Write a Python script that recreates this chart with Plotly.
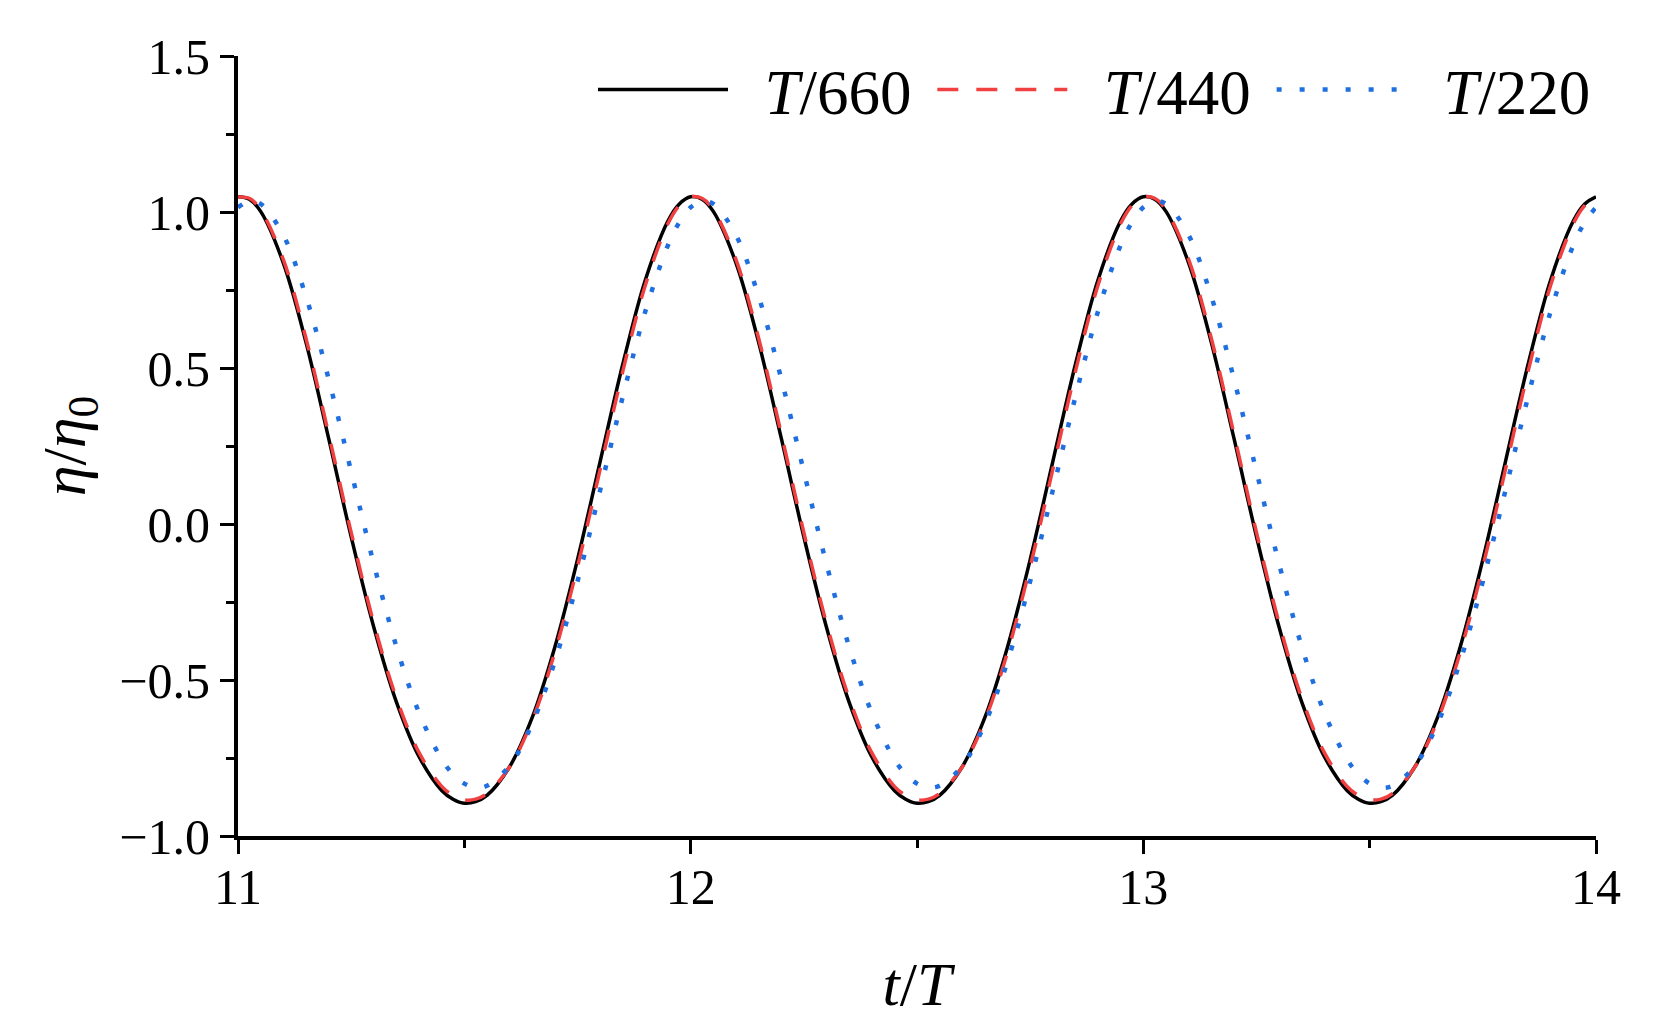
import plotly.graph_objects as go

# t/T sampling (denser around crests and troughs)
t_over_T = [
    11.000, 11.025, 11.05, 11.10, 11.15, 11.20, 11.25, 11.30, 11.35, 11.40, 11.45, 11.475,
    11.500, 11.525, 11.55, 11.60, 11.65, 11.70, 11.75, 11.80, 11.85, 11.90, 11.95, 11.975,
    12.000, 12.025, 12.05, 12.10, 12.15, 12.20, 12.25, 12.30, 12.35, 12.40, 12.45, 12.475,
    12.500, 12.525, 12.55, 12.60, 12.65, 12.70, 12.75, 12.80, 12.85, 12.90, 12.95, 12.975,
    13.000, 13.025, 13.05, 13.10, 13.15, 13.20, 13.25, 13.30, 13.35, 13.40, 13.45, 13.475,
    13.500, 13.525, 13.55, 13.60, 13.65, 13.70, 13.75, 13.80, 13.85, 13.90, 13.95, 13.975,
    14.000,
]

# eta/eta0, dt = T/660
eta_660 = [
    1.049, 1.041, 1.002, 0.837, 0.583, 0.276, -0.041, -0.331, -0.571, -0.746, -0.854, -0.882,
    -0.895, -0.890, -0.870, -0.778, -0.620, -0.394, -0.114, 0.200, 0.512, 0.783, 0.972, 1.026,
    1.049, 1.041, 1.002, 0.837, 0.583, 0.276, -0.041, -0.331, -0.571, -0.746, -0.854, -0.882,
    -0.895, -0.890, -0.870, -0.778, -0.620, -0.394, -0.114, 0.200, 0.512, 0.783, 0.972, 1.026,
    1.049, 1.041, 1.002, 0.837, 0.583, 0.276, -0.041, -0.331, -0.571, -0.746, -0.854, -0.882,
    -0.895, -0.890, -0.870, -0.778, -0.620, -0.394, -0.114, 0.200, 0.512, 0.783, 0.972, 1.026,
    1.049,
]

# eta/eta0, dt = T/440
eta_440 = [
    1.048, 1.044, 1.007, 0.848, 0.596, 0.290, -0.027, -0.318, -0.558, -0.733, -0.841, -0.870,
    -0.884, -0.882, -0.864, -0.779, -0.629, -0.411, -0.137, 0.175, 0.489, 0.766, 0.963, 1.021,
    1.048, 1.044, 1.007, 0.848, 0.596, 0.290, -0.027, -0.318, -0.558, -0.733, -0.841, -0.870,
    -0.884, -0.882, -0.864, -0.779, -0.629, -0.411, -0.137, 0.175, 0.489, 0.766, 0.963, 1.021,
    1.048, 1.044, 1.007, 0.848, 0.596, 0.290, -0.027, -0.318, -0.558, -0.733, -0.841, -0.870,
    -0.884, -0.882, -0.864, -0.779, -0.629, -0.411, -0.137, 0.175, 0.489, 0.766, 0.963, 1.021,
    1.048,
]

# eta/eta0, dt = T/220
eta_220 = [
    1.015, 1.034, 1.026, 0.926, 0.730, 0.466, 0.168, -0.128, -0.393, -0.605, -0.754, -0.802,
    -0.832, -0.845, -0.839, -0.775, -0.640, -0.440, -0.184, 0.108, 0.408, 0.682, 0.894, 0.967,
    1.015, 1.034, 1.026, 0.926, 0.730, 0.466, 0.168, -0.128, -0.393, -0.605, -0.754, -0.802,
    -0.832, -0.845, -0.839, -0.775, -0.640, -0.440, -0.184, 0.108, 0.408, 0.682, 0.894, 0.967,
    1.015, 1.034, 1.026, 0.926, 0.730, 0.466, 0.168, -0.128, -0.393, -0.605, -0.754, -0.802,
    -0.832, -0.845, -0.839, -0.775, -0.640, -0.440, -0.184, 0.108, 0.408, 0.682, 0.894, 0.967,
    1.015,
]

FONT = 'Liberation Serif, Times New Roman, serif'
NB = '\u00a0'

fig = go.Figure()
fig.add_trace(go.Scatter(x=t_over_T, y=eta_660, name=NB * 2 + '<i>T</i>/660' + NB, mode='lines',
                         line=dict(color='black', width=3.5, shape='spline')))
fig.add_trace(go.Scatter(x=t_over_T, y=eta_440, name=NB * 2 + '<i>T</i>/440' + NB, mode='lines',
                         line=dict(color='#F04040', width=3.5, shape='spline', dash='21px,18px')))
fig.add_trace(go.Scatter(x=t_over_T, y=eta_220, name=NB * 2 + '<i>T</i>/220', mode='lines',
                         line=dict(color='#1F6FE0', width=4.5, shape='spline', dash='5px,18px')))

axis_common = dict(
    showline=True, linecolor='black', linewidth=4, mirror=False,
    showgrid=False, zeroline=False,
    ticks='outside', ticklen=14, tickwidth=3, tickcolor='black',
    tickfont=dict(family=FONT, size=50, color='black'),
)

fig.update_layout(
    width=1656, height=1031,
    paper_bgcolor='white', plot_bgcolor='white',
    font=dict(family=FONT, color='black'),
    margin=dict(l=230, r=68, t=48, b=203),
    showlegend=True,
    legend=dict(orientation='h', xanchor='right', x=1.0, yanchor='middle', y=0.957,
                font=dict(family=FONT, size=63, color='black'),
                bgcolor='rgba(0,0,0,0)', itemwidth=130, tracegroupgap=0),
    xaxis=dict(range=[11, 14], dtick=1, tick0=11, ticklabelstandoff=-10,
               minor=dict(dtick=0.5, ticklen=8, tickwidth=3, tickcolor='black', ticks='outside'),
               title=dict(text='<i>t</i>/<i>T</i>', font=dict(family=FONT, size=62), standoff=49),
               **axis_common),
    yaxis=dict(range=[-1, 1.5], dtick=0.5, tick0=0, tickformat='.1f',
               minor=dict(dtick=0.25, ticklen=8, tickwidth=3, tickcolor='black', ticks='outside'),
               title=dict(text='<i>η</i>/<i>η</i><sub>0</sub>', font=dict(family=FONT, size=62), standoff=15),
               **axis_common),
)

fig.write_html('out.html')
